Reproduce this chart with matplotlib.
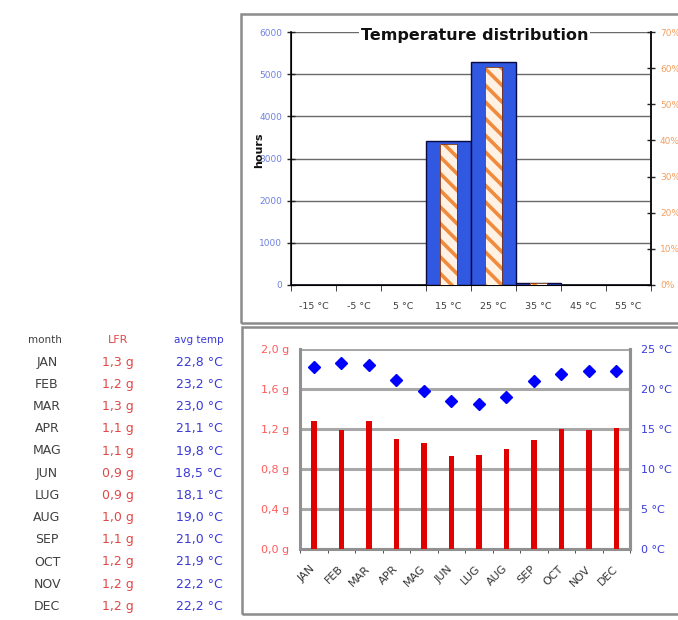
import matplotlib
matplotlib.use("Agg")
import matplotlib.pyplot as plt
from matplotlib.patches import Rectangle
import numpy as np

plt.rcParams['font.family'] = ['DejaVu Sans']
plt.rcParams['hatch.linewidth'] = 2.6

# ---------------- data ----------------
temp_bins = ["-15 °C", "-5 °C", "5 °C", "15 °C", "25 °C", "35 °C", "45 °C", "55 °C"]
hours = [0, 0, 0, 3420, 5290, 50, 0, 0]
share_pct = [0, 0, 0, 39.0, 60.4, 0.6, 0, 0]
hours_ticks = [0, 1000, 2000, 3000, 4000, 5000, 6000]
pct_ticks = [0, 10, 20, 30, 40, 50, 60, 70]

months = ["JAN", "FEB", "MAR", "APR", "MAG", "JUN", "LUG", "AUG", "SEP", "OCT", "NOV", "DEC"]
lfr = [1.28, 1.19, 1.28, 1.10, 1.06, 0.93, 0.94, 1.00, 1.09, 1.20, 1.19, 1.21]
avg_temp = [22.8, 23.2, 23.0, 21.1, 19.8, 18.5, 18.1, 19.0, 21.0, 21.9, 22.2, 22.2]
lfr_ticks = [0.0, 0.4, 0.8, 1.2, 1.6, 2.0]
temp_ticks = [0, 5, 10, 15, 20, 25]

W, H = 678, 620
fig = plt.figure(figsize=(W / 100, H / 100), dpi=100)


def fx(px):
    return px / W


def fy(py):
    return 1 - py / H


# panel frames
fig.patches.append(Rectangle((fx(241), fy(323)), fx(720 - 241), fy(14) - fy(323),
                             transform=fig.transFigure, fill=False, edgecolor='#8c8c8c', lw=1.8))
fig.patches.append(Rectangle((fx(242), fy(614)), fx(720 - 242), fy(327) - fy(614),
                             transform=fig.transFigure, fill=False, edgecolor='#8c8c8c', lw=1.8))

# ---------------- top chart ----------------
ax1 = fig.add_axes([fx(291), fy(285), fx(651 - 291), fy(32) - fy(285)])
x = np.arange(len(temp_bins))
ax1.bar(x, hours, width=1.0, color='#3158E0', edgecolor='#0a0a40', lw=1.0, zorder=3)
ax1.set_xlim(-0.5, len(temp_bins) - 0.5)
ax1.set_ylim(0, 6000)
ax1.set_yticks(hours_ticks)
ax1.set_yticklabels([str(v) for v in hours_ticks])
ax1.tick_params(axis='y', colors='#222222', labelcolor='#7080e0', labelsize=6.5,
                direction='inout', length=6, width=1)
ax1.set_xticks(x)
ax1.set_xticklabels(temp_bins)
ax1.tick_params(axis='x', length=0, labelsize=6.8, labelcolor='#404040', pad=12)
ax1.set_xticks(np.arange(-0.5, len(temp_bins), 1.0), minor=True)
ax1.tick_params(axis='x', which='minor', length=4, direction='out', color='#222222')
ax1.yaxis.grid(True, color='#6a6a6a', lw=1.0, zorder=0)
for s in ['left', 'right', 'bottom']:
    ax1.spines[s].set_color('#111111')
    ax1.spines[s].set_linewidth(1.2)
ax1.spines['top'].set_visible(False)

ax1b = ax1.twinx()
ax1b.bar(x, share_pct, width=0.37, color='#fff2e4', edgecolor='#f08a3c', hatch='\\\\',
         lw=0, zorder=4)
ax1b.bar(x, share_pct, width=0.37, fill=False, edgecolor='#7a3010', lw=0.6, zorder=5)
ax1b.set_ylim(0, 70)
ax1b.set_yticks(pct_ticks)
ax1b.set_yticklabels([f"{v}%" for v in pct_ticks])
ax1b.tick_params(axis='y', colors='#222222', labelcolor='#f4a060', labelsize=6.5,
                 direction='inout', length=6, width=1)
ax1b.spines['top'].set_visible(False)
ax1b.spines['right'].set_color('#111111')
ax1b.spines['right'].set_linewidth(1.2)

ax1.text(0.51, 0.985, "Temperature distribution", transform=ax1.transAxes,
         ha='center', va='center', fontsize=11.5, fontweight='bold', color='#111111',
         bbox=dict(facecolor='white', edgecolor='none', pad=1.5), zorder=10)
fig.text(fx(259), fy(150), "hours", rotation=90, ha='center', va='center',
         fontsize=8, fontweight='bold', color='#111111')

# ---------------- bottom chart ----------------
ax2 = fig.add_axes([fx(300), fy(549), fx(330), fy(349) - fy(549)])
xm = np.arange(len(months))
ax2.bar(xm, lfr, width=0.2, color='#e00000', zorder=3)
ax2.set_xlim(-0.5, len(months) - 0.5)
ax2.set_ylim(0, 2.0)
ax2.set_yticks(lfr_ticks)
ax2.set_yticklabels([f"{v:.1f} g".replace('.', ',') for v in lfr_ticks])
ax2.tick_params(axis='y', length=0, labelsize=8, labelcolor='#ff5a5a', pad=8)
ax2.set_xticks(xm)
ax2.set_xticklabels(months, rotation=45, ha='right', va='center', rotation_mode='anchor')
ax2.tick_params(axis='x', length=0, labelsize=8, labelcolor='#333333', pad=13)
ax2.set_xticks(np.arange(-0.5, len(months), 1.0), minor=True)
ax2.tick_params(axis='x', which='minor', length=3, direction='out', color='#333333')
ax2.yaxis.grid(True, color='#a8a8a8', lw=2.2, zorder=0)
for s in ['left', 'right', 'bottom']:
    ax2.spines[s].set_color('#909090')
    ax2.spines[s].set_linewidth(2.2)
ax2.spines['top'].set_visible(False)

ax2b = ax2.twinx()
ax2b.plot(xm, avg_temp, linestyle='none', marker='D', markersize=6.3,
          color='#0000ff', zorder=5)
ax2b.set_ylim(0, 25)
ax2b.set_yticks(temp_ticks)
ax2b.set_yticklabels([f"{v} °C" for v in temp_ticks])
ax2b.tick_params(axis='y', length=0, labelsize=8, labelcolor='#3a3ae0', pad=8)
for s in ['left', 'top', 'bottom']:
    ax2b.spines[s].set_visible(False)
ax2b.spines['right'].set_color('#909090')
ax2b.spines['right'].set_linewidth(2.2)

# ---------------- table ----------------
row0 = 340
dy = 22.2
fig.text(fx(45), fy(row0), "month", ha='center', va='center', fontsize=7.5, color='#404040')
fig.text(fx(118), fy(row0), "LFR", ha='center', va='center', fontsize=8, color='#e04848')
fig.text(fx(199), fy(row0), "avg temp", ha='center', va='center', fontsize=7.5, color='#3a3ad8')
for i, m in enumerate(months):
    yy = fy(row0 + dy * (i + 1))
    fig.text(fx(47), yy, m, ha='center', va='center', fontsize=9, color='#404040')
    fig.text(fx(118), yy, f"{lfr[i]:.1f} g".replace('.', ','), ha='center', va='center',
             fontsize=9, color='#e04848')
    fig.text(fx(199), yy, f"{avg_temp[i]:.1f} °C".replace('.', ','), ha='center',
             va='center', fontsize=9, color='#3a3ad8')

fig.savefig("out.png", dpi=100)
